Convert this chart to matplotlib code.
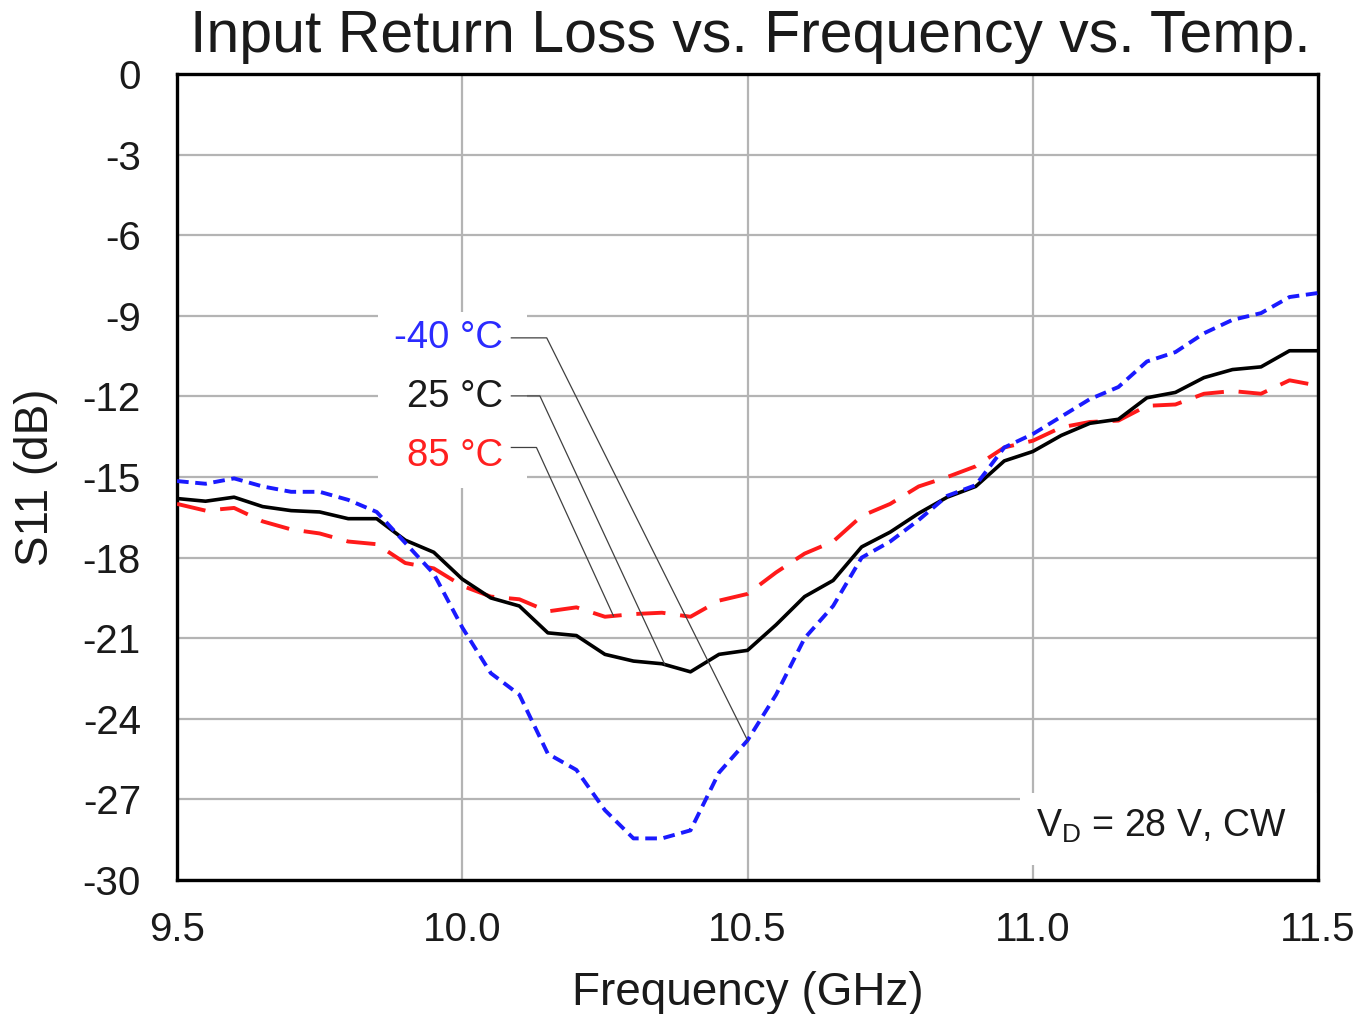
import matplotlib
matplotlib.use("Agg")
import matplotlib.pyplot as plt
from matplotlib.patches import Rectangle
import numpy as np

plt.rcParams['font.family'] = ['Liberation Sans', 'DejaVu Sans']
plt.rcParams['axes.unicode_minus'] = False

# frequency points (GHz), 0.05 GHz steps
freq = [9.50, 9.55, 9.60, 9.65, 9.70, 9.75, 9.80, 9.85, 9.90, 9.95,
        10.00, 10.05, 10.10, 10.15, 10.20, 10.25, 10.30, 10.35, 10.40, 10.45,
        10.50, 10.55, 10.60, 10.65, 10.70, 10.75, 10.80, 10.85, 10.90, 10.95,
        11.00, 11.05, 11.10, 11.15, 11.20, 11.25, 11.30, 11.35, 11.40, 11.45, 11.50]

s11_m40 = [-15.15, -15.25, -15.05, -15.35, -15.55, -15.55, -15.85, -16.3, -17.45, -18.6,
           -20.6, -22.3, -23.1, -25.3, -25.9, -27.4, -28.45, -28.45, -28.15, -26.0,
           -24.8, -23.1, -21.0, -19.8, -18.0, -17.4, -16.6, -15.7, -15.3, -13.9,
           -13.4, -12.75, -12.1, -11.65, -10.7, -10.35, -9.65, -9.15, -8.9, -8.3, -8.15]

s11_25 = [-15.8, -15.9, -15.75, -16.1, -16.25, -16.3, -16.55, -16.55, -17.35, -17.8,
          -18.8, -19.5, -19.8, -20.8, -20.9, -21.6, -21.85, -21.95, -22.25, -21.6,
          -21.45, -20.5, -19.45, -18.85, -17.6, -17.05, -16.35, -15.75, -15.35, -14.4,
          -14.05, -13.45, -13.0, -12.85, -12.05, -11.85, -11.3, -11.0, -10.9, -10.3, -10.3]

s11_85 = [-16.0, -16.25, -16.15, -16.65, -16.95, -17.1, -17.4, -17.5, -18.2, -18.4,
          -19.05, -19.45, -19.55, -20.0, -19.85, -20.2, -20.1, -20.05, -20.2, -19.6,
          -19.35, -18.55, -17.85, -17.4, -16.45, -16.0, -15.35, -15.0, -14.6, -13.9,
          -13.65, -13.15, -12.95, -12.9, -12.35, -12.3, -11.9, -11.8, -11.9, -11.4, -11.6]

labels = ['-40 °C', '25 °C', '85 °C']
label_colors = ['#2b2bff', '#1a1a1a', '#ff2020']
label_y = [-9.82, -12.02, -14.2]
leader_y = [-9.82, -11.98, -13.9]
elbow_x = [10.148, 10.136, 10.13]
target_x = [10.5, 10.355, 10.265]

xticks = [9.5, 10.0, 10.5, 11.0, 11.5]
yticks = [0, -3, -6, -9, -12, -15, -18, -21, -24, -27, -30]

fig = plt.figure(figsize=(13.67, 10.14), dpi=100)
ax = fig.add_axes([0.1295, 0.1321, 0.8347, 0.7949])

ax.plot(freq, s11_85, color='#ff1a1a', lw=2.8, dashes=(7.5, 3.8), zorder=3)
ax.plot(freq, s11_25, color='black', lw=2.6, zorder=4)
ax.plot(freq, s11_m40, color='#1a1aff', lw=2.8, dashes=(3.0, 1.7), zorder=5)

# white boxes behind the labels
ax.add_patch(Rectangle((9.852, -15.4), 0.262, 6.55, facecolor='white',
                       edgecolor='none', zorder=1))
ax.add_patch(Rectangle((10.978, -29.44), 0.52, 2.68, facecolor='white',
                       edgecolor='none', zorder=1))

curves = [s11_m40, s11_25, s11_85]
for i in range(3):
    ty = np.interp(target_x[i], freq, curves[i])
    ax.plot([10.086, elbow_x[i], target_x[i]], [leader_y[i], leader_y[i], ty],
            color='#404040', lw=0.9, zorder=6)
    ax.text(10.071, label_y[i], labels[i], color=label_colors[i], fontsize=27.5,
            ha='right', va='center', zorder=7)

ax.text(11.225, -27.99, r'V$_\mathregular{D}$ = 28 V, CW', color='#1a1a1a',
        fontsize=27, ha='center', va='center', zorder=7)

ax.set_xlim(9.5, 11.5)
ax.set_ylim(-30, 0)
ax.set_xticks(xticks)
ax.set_xticklabels([f'{t:.1f}' for t in xticks])
ax.set_yticks(yticks)
ax.tick_params(length=0, labelsize=29, colors='#1a1a1a')
ax.tick_params(axis='x', pad=22)
ax.tick_params(axis='y', pad=26)
ax.grid(True, color='#b4b4b4', lw=1.6)
ax.set_axisbelow(True)
for sp in ax.spines.values():
    sp.set_linewidth(2.4)
    sp.set_color('black')

ax.set_xlabel('Frequency (GHz)', fontsize=33, color='#1a1a1a', labelpad=16)
ax.set_ylabel('S11 (dB)', fontsize=33, color='#1a1a1a', labelpad=18)
fig.text(0.5486, 0.9487, 'Input Return Loss vs. Frequency vs. Temp.',
         fontsize=42.5, color='#1a1a1a', ha='center', va='baseline')

fig.savefig('out.png', dpi=100)
